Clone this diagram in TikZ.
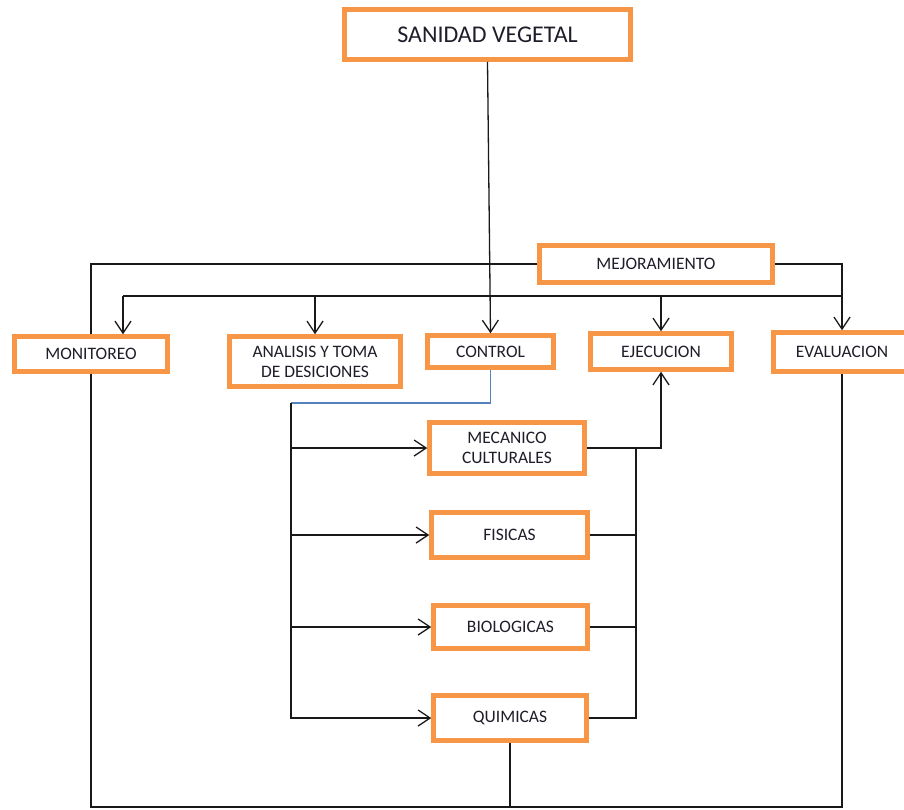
\documentclass[tikz,border=0pt]{standalone}
\usepackage{tikz}
\usepackage{xcolor}
\usepackage{fontspec}
\setmainfont{Carlito}
\usetikzlibrary{arrows.meta}
\definecolor{boxorange}{HTML}{F79646}
\definecolor{wireblue}{RGB}{84,130,190}
\definecolor{inkgray}{RGB}{30,30,42}

\begin{document}
\begin{tikzpicture}[x=1pt, y=-1pt,
    every node/.style = {shape=rectangle, draw=boxorange, line width=4.5pt,
      fill=white, align=center, inner sep=0pt, text=inkgray,
      font=\fontsize{17.5}{20}\selectfont},
    wire/.style = {draw=black!90, line width=1.3pt},
    arr/.style = {wire, -{Straight Barb[length=12pt,width=16pt,line width=1.3pt]}},
    bluewire/.style = {draw=wireblue, line width=1.1pt}]
    \useasboundingbox (0,0) rectangle (904,809);
    \node[minimum width=286pt, minimum height=50pt, font=\fontsize{24}{28}\selectfont] (sanidad) at (487.5,34.5) {SANIDAD VEGETAL};
    \node[minimum width=233pt, minimum height=37pt] (mejora) at (656,264) {MEJORAMIENTO};
    \node[minimum width=153pt, minimum height=35pt] (monit) at (91,354) {MONITOREO};
    \node[minimum width=171pt, minimum height=50pt] (analisis) at (315,361.5) {ANALISIS Y TOMA\\DE DESICIONES};
    \node[minimum width=126pt, minimum height=32pt] (control) at (490.5,351.5) {CONTROL};
    \node[minimum width=141pt, minimum height=36pt] (ejec) at (661,351.5) {EJECUCION};
    \node[minimum width=137pt, minimum height=39pt] (eval) at (842,352) {EVALUACION};
    \node[minimum width=155pt, minimum height=51pt] (mecan) at (507,448) {MECANICO\\CULTURALES};
    \node[minimum width=156pt, minimum height=45pt] (fisicas) at (509.5,535) {FISICAS};
    \node[minimum width=154pt, minimum height=43pt] (biolog) at (510.5,627) {BIOLOGICAS};
    \node[minimum width=153pt, minimum height=45pt] (quim) at (510,718) {QUIMICAS};

    \coordinate (bus) at (123,296);
    \coordinate (split) at (291,403);
    \coordinate (join) at (636,448);
    \coordinate (floor) at (0,807);

    \draw[arr] (sanidad.south) -- (control.north);
    \draw[wire] (mejora.west) -| (monit.north);
    \draw[arr] (mejora.east) -| (eval.north);
    \draw[wire] (bus) -- (eval.north |- bus);
    \draw[arr] (bus) -- (bus |- monit.north);
    \draw[arr] (analisis.north |- bus) -- (analisis.north);
    \draw[arr] (ejec.north |- bus) -- (ejec.north);

    \draw[bluewire] (control.south) |- (split);
    \draw[arr] (split) |- (quim.west);
    \draw[arr] (split |- mecan) -- (mecan.west);
    \draw[arr] (split |- fisicas) -- (fisicas.west);
    \draw[arr] (split |- biolog) -- (biolog.west);

    \draw[arr] (mecan.east) -| (ejec.south);
    \draw[wire] (join) |- (quim.east);
    \draw[wire] (fisicas.east) -- (join |- fisicas);
    \draw[wire] (biolog.east) -- (join |- biolog);

    \draw[wire] (monit.south) -- (monit.south |- floor) -- (eval.south |- floor) -- (eval.south);
    \draw[wire] (quim.south) -- (quim.south |- floor);
\end{tikzpicture}
\end{document}
